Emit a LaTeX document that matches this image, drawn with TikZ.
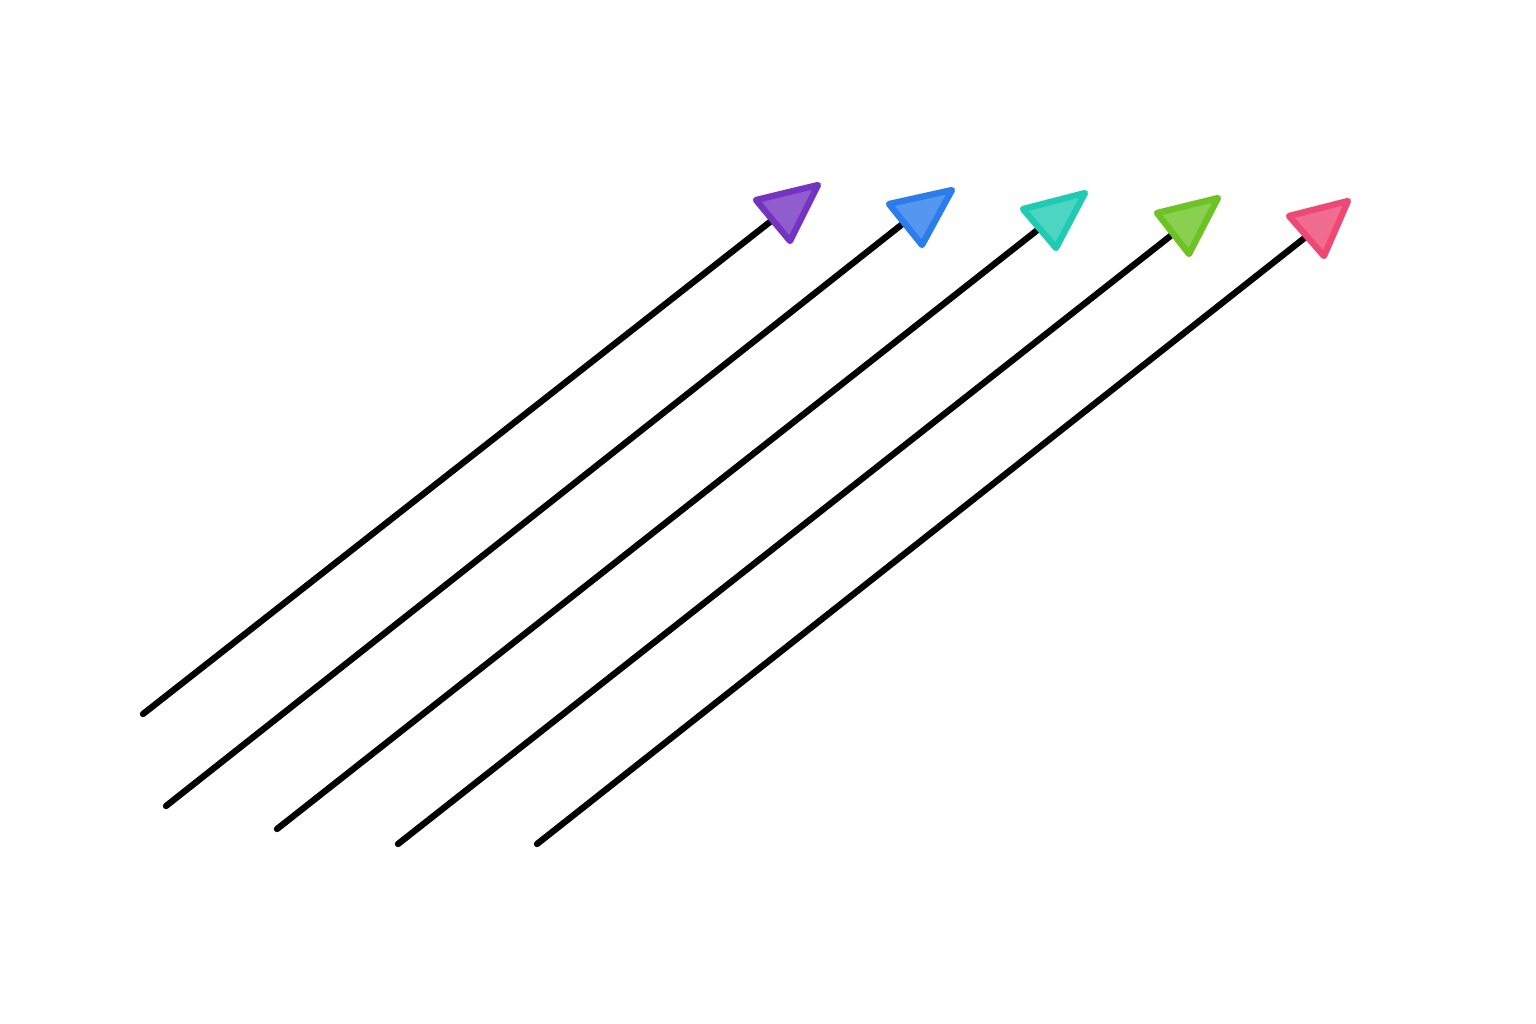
\documentclass[tikz,border=0pt]{standalone}
\usepackage{xcolor}
\usepackage{tikz}
\usetikzlibrary{calc}

\definecolor{cpurple}{HTML}{7434C2}
\definecolor{cblue}{HTML}{2B7DEB}
\definecolor{cteal}{HTML}{1FCBB3}
\definecolor{cgreen}{HTML}{6DC324}
\definecolor{cpink}{HTML}{EE4874}

\begin{document}
\begin{tikzpicture}[
    x=0.01cm, y=-0.01cm,
    shaft/.style={line width=1.8pt, line cap=round, black},
    head/.style={draw=#1, fill=#1!80, line width=1.8pt, line join=round}
]

\useasboundingbox (0,0) rectangle (1536,1024);

\foreach \sx/\sy/\ex/\ey/\ax/\ay/\bx/\by/\cx/\cy/\col [count=\i] in {
    143/714/775/218/756/200/818/185/790/241/cpurple,
    166/806/905/222/889/204/952/190/922/245/cblue,
    277/829/1040/228/1023/209/1085/193/1056/248/cteal,
    398/844/1173/234/1157/213/1218/198/1189/254/cgreen,
    537/844/1307/236/1289/216/1348/201/1324/256/cpink}{
  \coordinate (start\i) at (\sx,\sy);
  \coordinate (end\i) at (\ex,\ey);
  \draw[shaft] (start\i) -- (end\i);
  \draw[head=\col] (\ax,\ay) -- (\bx,\by) -- (\cx,\cy) -- cycle;
}

\end{tikzpicture}
\end{document}
